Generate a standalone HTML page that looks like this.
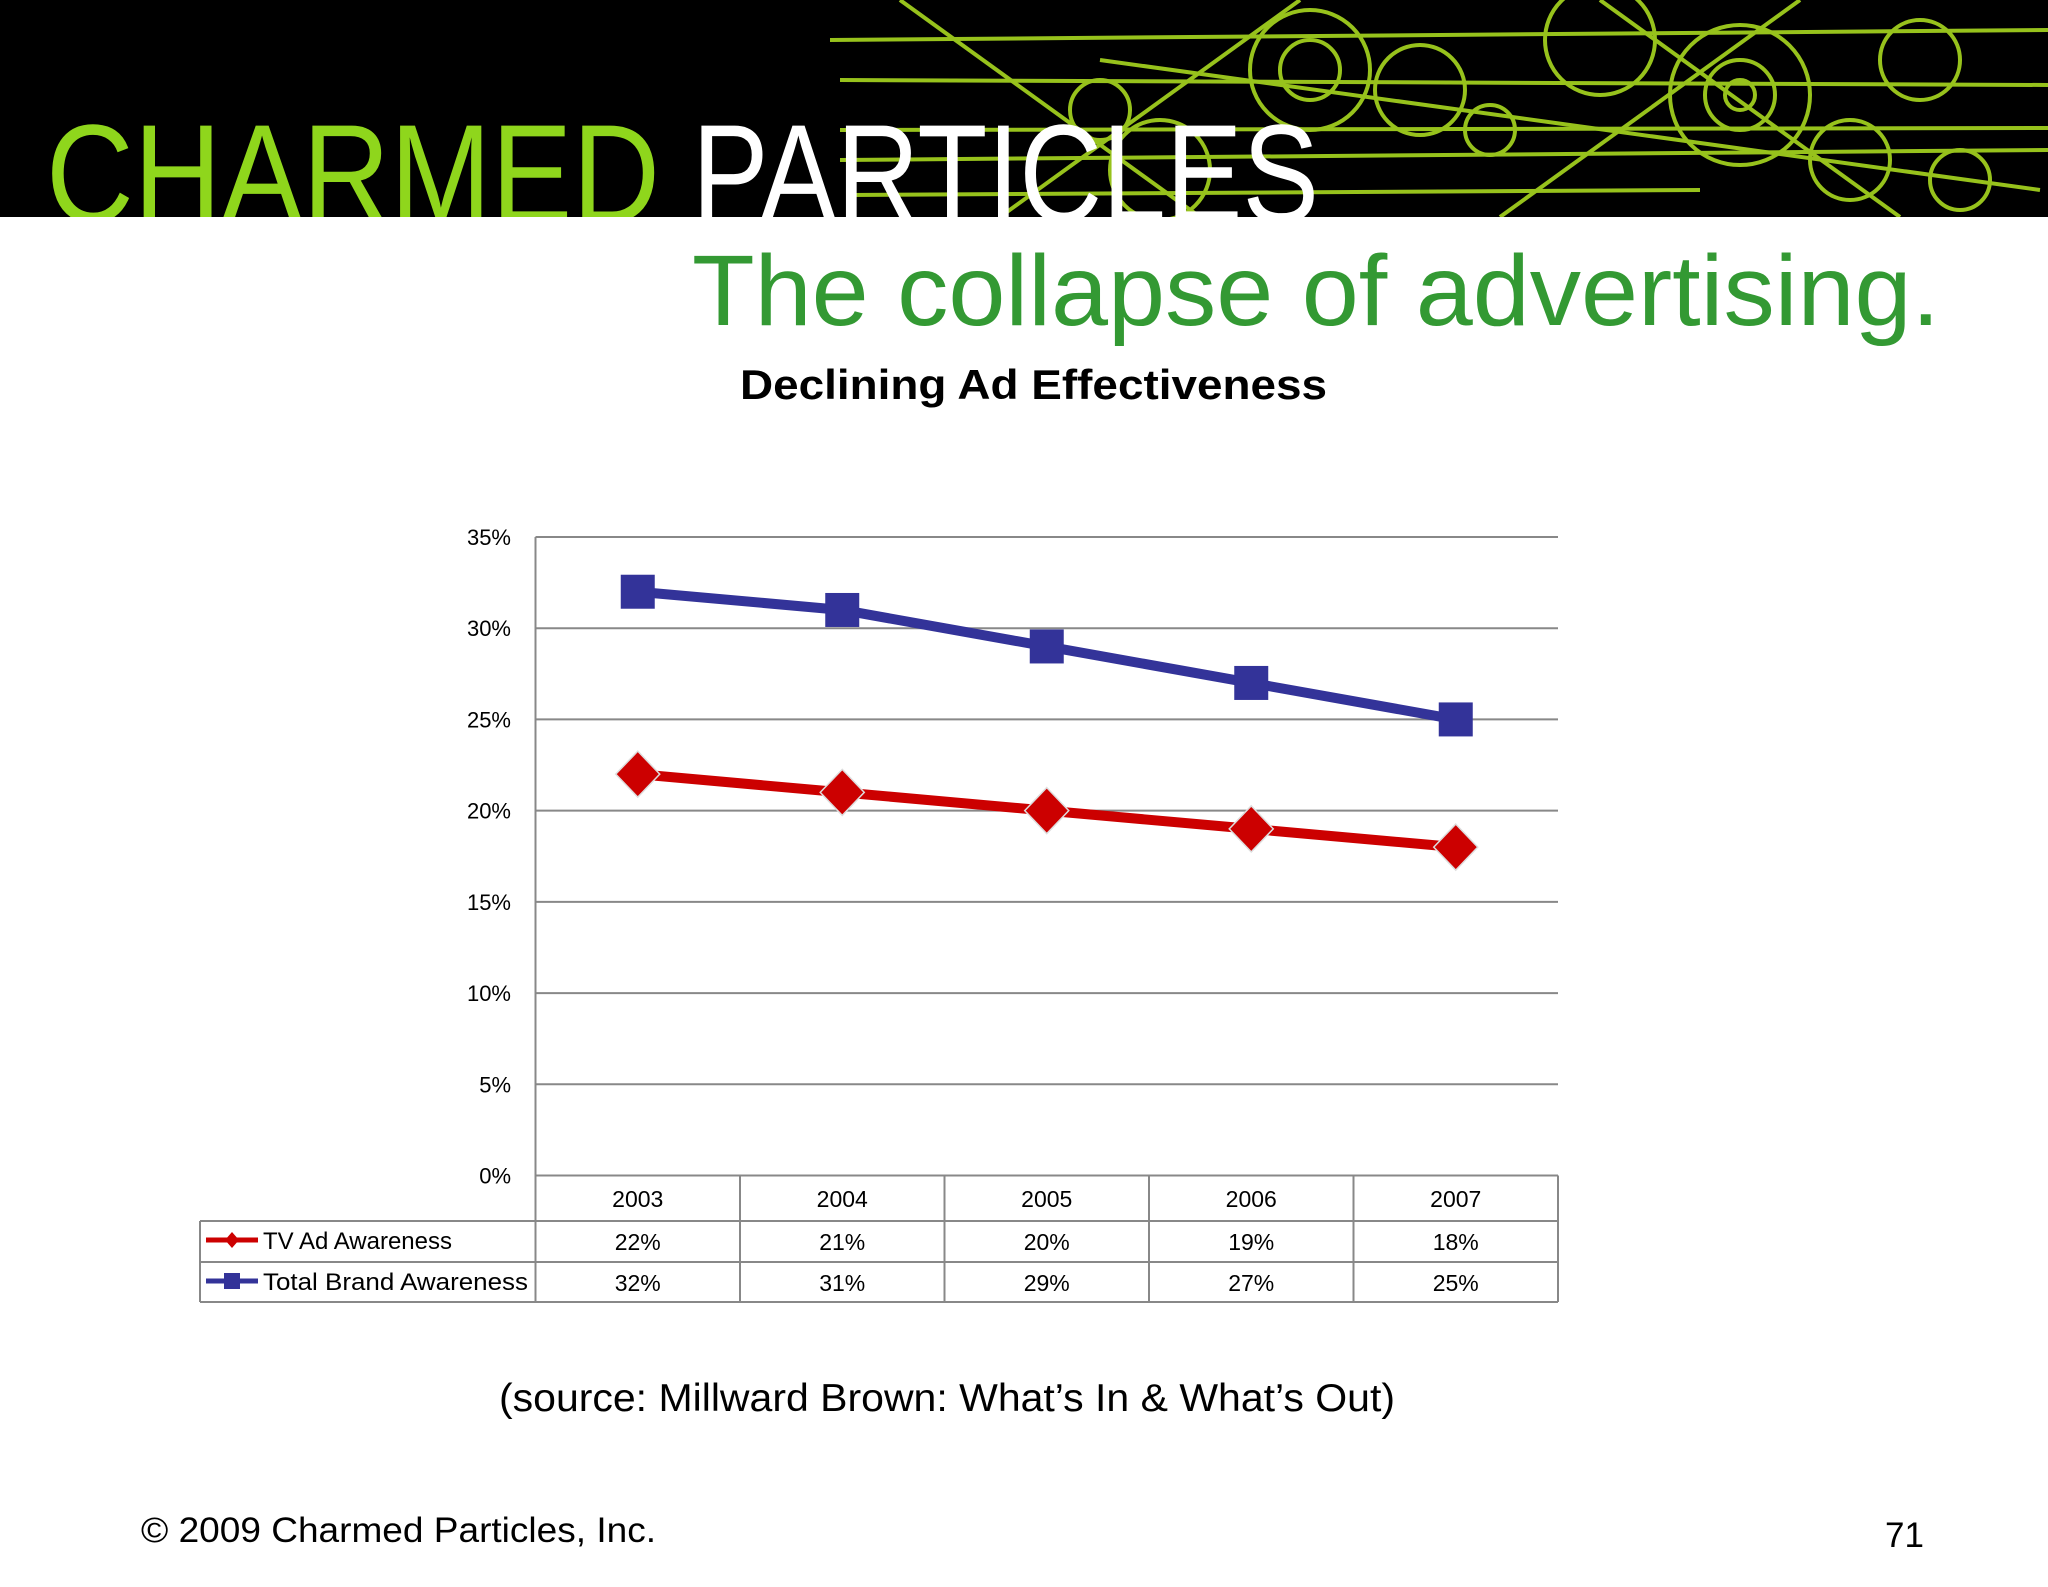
<!DOCTYPE html>
<html><head><meta charset="utf-8"><style>
html,body{margin:0;padding:0;background:#fff;}
svg{display:block;font-family:"Liberation Sans",sans-serif;}
</style></head><body>
<svg id="page" width="2048" height="1587" viewBox="0 0 2048 1587" xmlns="http://www.w3.org/2000/svg">
<defs><clipPath id="bc"><rect x="0" y="0" width="2048" height="217"/></clipPath></defs>
<g clip-path="url(#bc)">
<rect x="0" y="0" width="2048" height="217" fill="#000"/>
<g stroke="#a8d820" fill="none" stroke-width="4" opacity="0.9">
<line x1="830" y1="40" x2="2048" y2="30"/><line x1="840" y1="80" x2="2048" y2="85"/><line x1="840" y1="130" x2="2048" y2="128"/>
<line x1="840" y1="160" x2="2048" y2="150"/><line x1="850" y1="195" x2="1700" y2="190"/>
<line x1="900" y1="0" x2="1200" y2="217"/><line x1="1500" y1="217" x2="1800" y2="0"/><line x1="1100" y1="60" x2="2040" y2="190"/>
<line x1="1600" y1="0" x2="1900" y2="217"/><line x1="1000" y1="217" x2="1300" y2="0"/>
<circle cx="1310" cy="70" r="60"/><circle cx="1310" cy="70" r="30"/><circle cx="1420" cy="90" r="45"/><circle cx="1740" cy="95" r="70"/><circle cx="1740" cy="95" r="35"/><circle cx="1740" cy="95" r="15"/>
<circle cx="1920" cy="60" r="40"/><circle cx="1160" cy="170" r="50"/><circle cx="1960" cy="180" r="30"/><circle cx="1600" cy="40" r="55"/>
<circle cx="1490" cy="130" r="25"/><circle cx="1850" cy="160" r="40"/><circle cx="1100" cy="110" r="30"/>
</g>
<text x="46" y="222" font-size="140" fill="#8fd61c" textLength="614" lengthAdjust="spacingAndGlyphs">CHARMED</text>
<text x="692" y="222" font-size="140" fill="#fff" textLength="627" lengthAdjust="spacingAndGlyphs">PARTICLES</text>
</g>
<text x="692" y="325" font-size="100" fill="#339933" textLength="1248" lengthAdjust="spacingAndGlyphs">The collapse of advertising.</text>
<text x="740" y="399" font-size="42" font-weight="bold" fill="#000" textLength="587" lengthAdjust="spacingAndGlyphs">Declining Ad Effectiveness</text>
<g id="chart"></g>
<text x="499" y="1411" font-size="39" fill="#000" textLength="896" lengthAdjust="spacingAndGlyphs">(source: Millward Brown: What’s In &amp; What’s Out)</text>
<text x="141" y="1542" font-size="35" fill="#000" textLength="515" lengthAdjust="spacingAndGlyphs">© 2009 Charmed Particles, Inc.</text>
<text x="1885" y="1547" font-size="35" fill="#000">71</text>
</svg>
<script>
const categories = ["2003","2004","2005","2006","2007"];
const tvAd = [22,21,20,19,18];
const totalBrand = [32,31,29,27,25];
const yTicks = [0,5,10,15,20,25,30,35];
const seriesNames = ["TV Ad Awareness","Total Brand Awareness"];

const NS="http://www.w3.org/2000/svg";
const g=document.getElementById('chart');
const L=535.5,R=1558,T=537,B=1175.5,yMax=35;
const cw=(R-L)/categories.length;
const xPos=i=>L+cw*(i+0.5);
const yPos=v=>B-(v/yMax)*(B-T);
function mk(tag,a,p){const e=document.createElementNS(NS,tag);for(const k in a)e.setAttribute(k,a[k]);(p||g).appendChild(e);return e;}

yTicks.forEach(t=>{
  const ln=mk('line',{x1:L,x2:R,y1:yPos(t),y2:yPos(t),stroke:'#888','stroke-width':2});
  
  
  const tx=mk('text',{x:511,y:yPos(t)+8,'font-size':22,'text-anchor':'end',fill:'#000'});
  tx.textContent=t+'%';
  
  
});
const ax=mk('line',{x1:L,x2:L,y1:T,y2:B,stroke:'#888','stroke-width':2});



const rows=[B,1221,1262,1302];
const tb=mk('g',{});


mk('line',{x1:L,x2:R,y1:rows[0],y2:rows[0],stroke:'#888','stroke-width':2},tb);
for(let r=1;r<4;r++) mk('line',{x1:200,x2:R,y1:rows[r],y2:rows[r],stroke:'#888','stroke-width':2},tb);
mk('line',{x1:200,x2:200,y1:rows[1],y2:rows[3],stroke:'#888','stroke-width':2},tb);
for(let i=0;i<=categories.length;i++) mk('line',{x1:L+cw*i,x2:L+cw*i,y1:rows[0],y2:rows[3],stroke:'#888','stroke-width':2},tb);
categories.forEach((c,i)=>{
  const t=mk('text',{x:xPos(i),y:1207,'font-size':23,'text-anchor':'middle'},tb);t.textContent=c;
  
  
  const a=mk('text',{x:xPos(i),y:1250,'font-size':23,'text-anchor':'middle'},tb);a.textContent=tvAd[i]+'%';
  
  
  const b=mk('text',{x:xPos(i),y:1291,'font-size':23,'text-anchor':'middle'},tb);b.textContent=totalBrand[i]+'%';
  
  
});
mk('line',{x1:206,x2:258,y1:1240,y2:1240,stroke:'#cc0000','stroke-width':5},tb);
mk('polygon',{points:'232,1232 239,1240 232,1248 225,1240',fill:'#cc0000'},tb);
mk('line',{x1:206,x2:258,y1:1281,y2:1281,stroke:'#333399','stroke-width':5},tb);
mk('rect',{x:224,y:1273,width:16,height:16,fill:'#333399'},tb);
const l1=mk('text',{x:263,y:1249,'font-size':24},tb);l1.textContent=seriesNames[0];


const l2=mk('text',{x:263,y:1290,'font-size':24,textLength:265,lengthAdjust:'spacingAndGlyphs'},tb);l2.textContent=seriesNames[1];



function series(vals,color,name,marker){
  const pl=mk('polyline',{points:vals.map((v,i)=>xPos(i)+','+yPos(v)).join(' '),fill:'none',stroke:color,'stroke-width':10,'stroke-linejoin':'round'});
  
  
  vals.forEach((v,i)=>{
    const x=xPos(i),y=yPos(v);let m;
    if(marker==='sq') m=mk('rect',{x:x-17,y:y-17,width:34,height:34,fill:color});
    else m=mk('polygon',{points:`${x},${y-23} ${x+22},${y} ${x},${y+23} ${x-22},${y}`,fill:color,stroke:'#ddd','stroke-width':1.5});
    
    
  });
}
series(totalBrand,'#333399','total-brand','sq');
series(tvAd,'#cc0000','tv-ad','di');
</script>
</body></html>
